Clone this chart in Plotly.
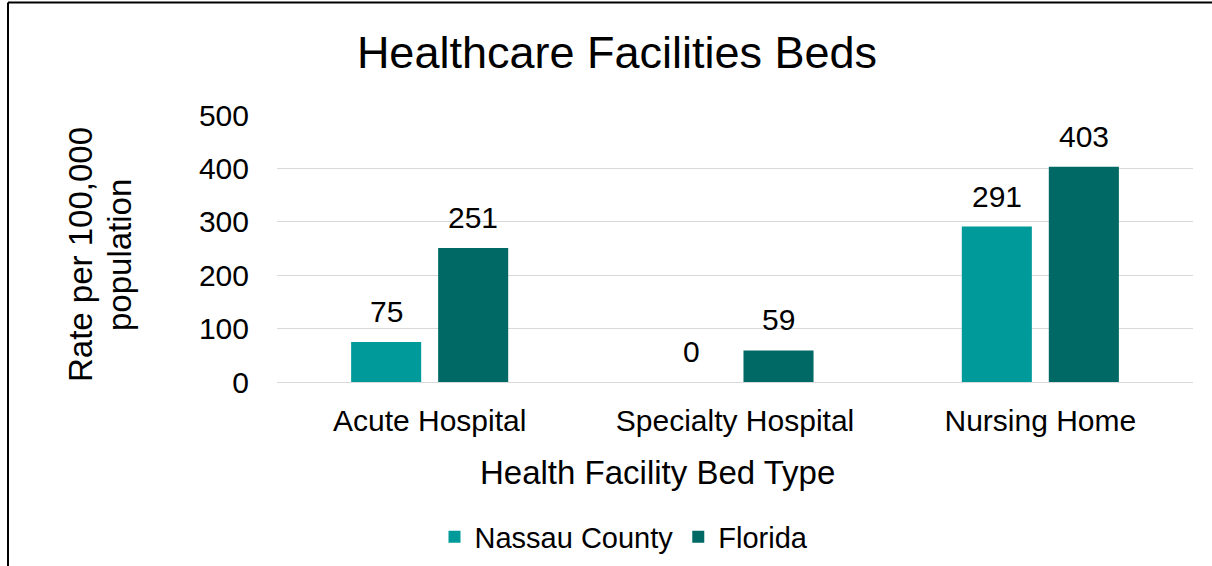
import plotly.graph_objects as go

categories = ["Acute Hospital", "Specialty Hospital", "Nursing Home"]
nassau = [75, 0, 291]
florida = [251, 59, 403]
series_names = ["Nassau County", "Florida"]
colors = ["#009A9A", "#006966"]

FONT = "Liberation Sans, Arial, sans-serif"

L, R, T, B = 277, 19, 115, 184
W, H = 1212, 566
pw, ph = W - L - R, H - T - B


def px_x(x):
    return (x - L) / pw


def px_y(y):
    return (H - B - y) / ph


fig = go.Figure()
offsets = [-43.5, 43.5]
for name, vals, col, off in zip(series_names, [nassau, florida], colors, offsets):
    fig.add_trace(go.Bar(
        x=categories, y=vals, name=name,
        marker=dict(color=col, line=dict(width=0)),
        hoverinfo="x+y+name",
    ))
    for c, v in zip(categories, vals):
        fig.add_annotation(x=c, y=v, xref="x", yref="y", text=str(v),
                           showarrow=False, xshift=off, yshift=12,
                           yanchor="bottom", xanchor="center",
                           font=dict(family=FONT, size=30, color="#000000"))

# axis titles
fig.add_annotation(x=px_x(657), y=px_y(472), xref="paper", yref="paper",
                   text="Health Facility Bed Type", showarrow=False,
                   xanchor="center", yanchor="middle",
                   font=dict(family=FONT, size=33, color="#000000"))
for txt, xc in [("Rate per 100,000", 80), ("population", 119)]:
    fig.add_annotation(x=px_x(xc), y=px_y(255), xref="paper", yref="paper",
                       text=txt, showarrow=False, textangle=-90,
                       xanchor="center", yanchor="middle",
                       font=dict(family=FONT, size=33, color="#000000"))

fig.update_layout(
    width=W, height=H,
    margin=dict(l=L, r=R, t=T, b=B, autoexpand=False),
    paper_bgcolor="white", plot_bgcolor="white",
    barmode="group", bargap=0.43, bargroupgap=0.195,
    font=dict(family=FONT, color="#000000"),
    title=dict(text="Healthcare Facilities Beds", x=617 / W, xanchor="center",
               y=1 - 52 / H, yanchor="middle",
               font=dict(family=FONT, size=45, color="#000000")),
    xaxis=dict(
        tickfont=dict(size=30), showline=True, linecolor="#d9d9d9", linewidth=1,
        ticks="", showgrid=False, ticklabelstandoff=12, automargin=False,
    ),
    yaxis=dict(
        range=[0, 500], dtick=100, tickfont=dict(size=30),
        showgrid=True, gridcolor="#d9d9d9", gridwidth=1, zeroline=False,
        ticks="", ticklabelstandoff=27, automargin=False,
    ),
    legend=dict(orientation="h", x=px_x(624), xanchor="center", y=px_y(537),
                yanchor="middle", font=dict(size=29), itemwidth=30,
                traceorder="normal"),
    showlegend=True,
)

# outer chart border (left and top edges visible)
fig.add_shape(type="line", xref="paper", yref="paper",
              x0=px_x(8), x1=px_x(8), y0=px_y(H + 10), y1=px_y(2.5),
              line=dict(color="#000000", width=2))
fig.add_shape(type="line", xref="paper", yref="paper",
              x0=px_x(8), x1=px_x(W + 10), y0=px_y(2.5), y1=px_y(2.5),
              line=dict(color="#000000", width=2))

fig.write_html("out.html", config={"displayModeBar": False},
               post_script="document.body.style.margin='0';")
